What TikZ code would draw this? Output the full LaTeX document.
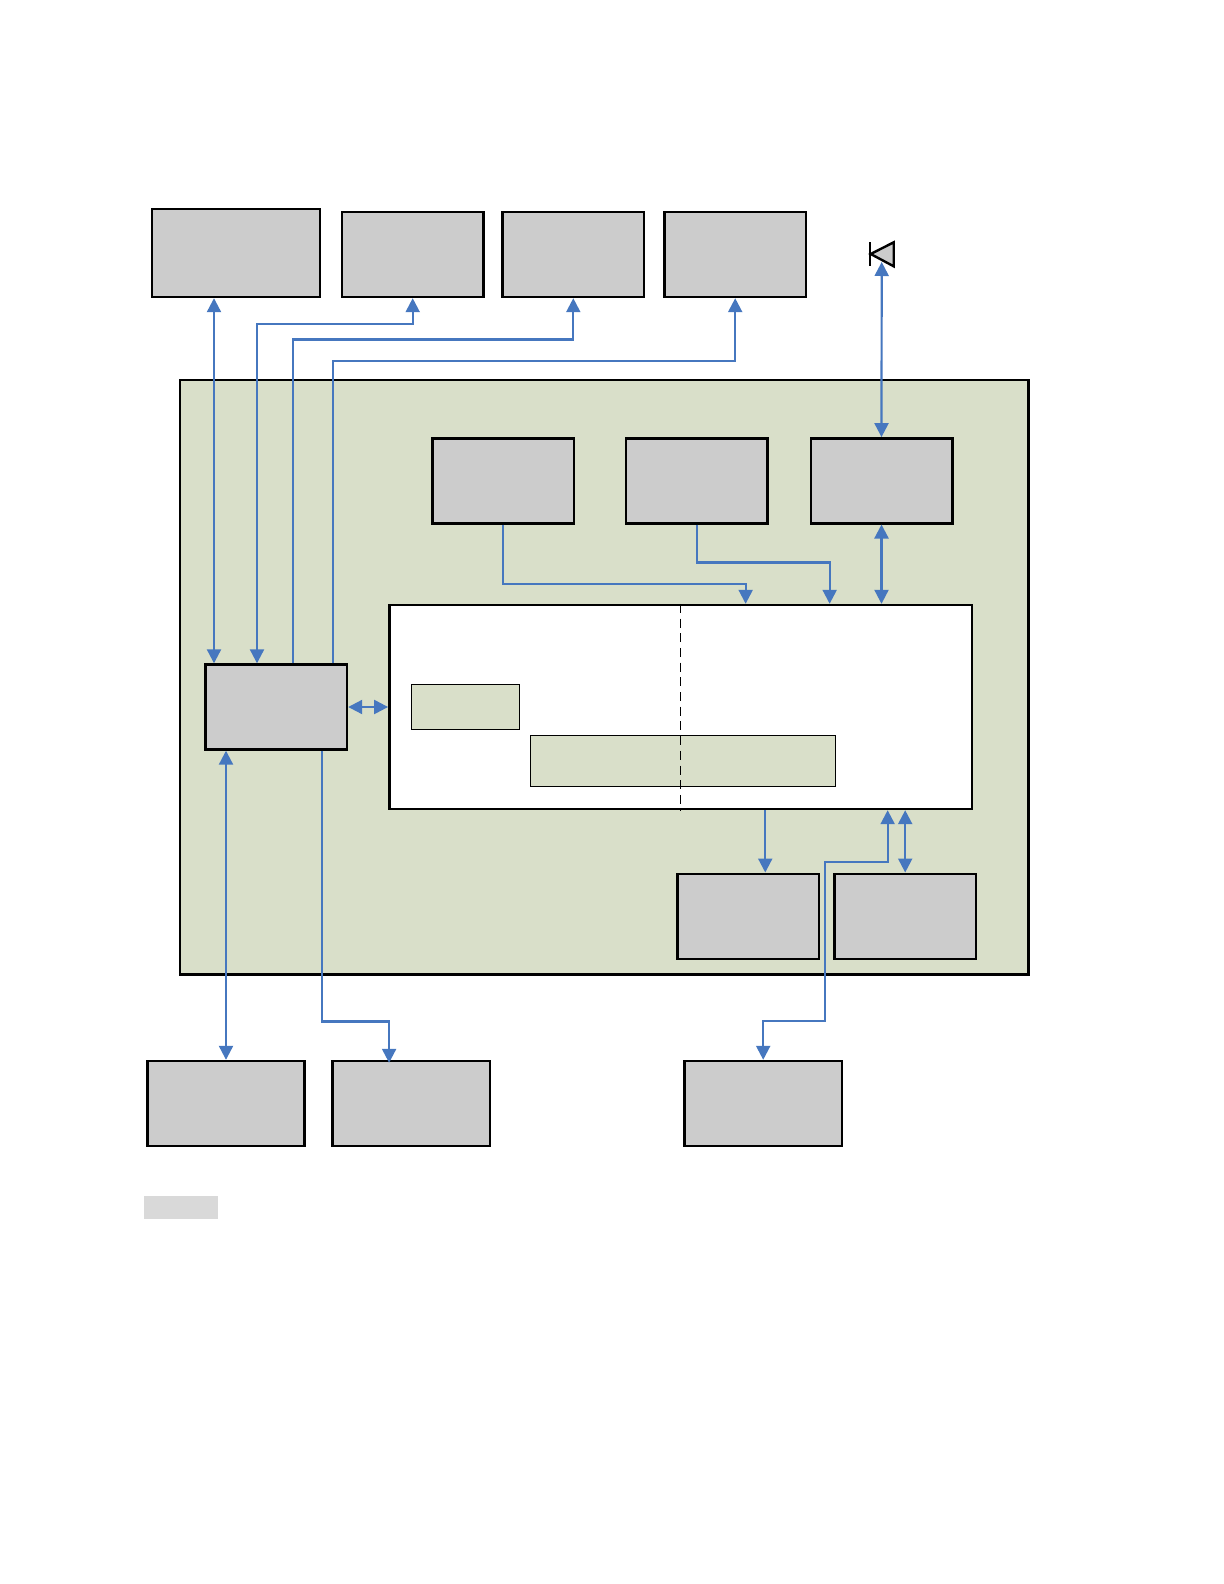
\documentclass[tikz,border=0pt]{standalone}
\usepackage{xcolor}
\usetikzlibrary{positioning,arrows.meta}
\definecolor{ChipGreen}{HTML}{D9DFC9}
\definecolor{BoxGray}{HTML}{CCCCCC}
\definecolor{LinkBlue}{HTML}{4677BF}
\tikzset{
  box/.style={draw,line width=1.2pt,fill=BoxGray,inner sep=0pt,minimum width=70.8pt,minimum height=42.5pt},
  widebox/.style={box,minimum width=78.7pt},
  chipbox/.style={draw,line width=1.2pt,fill=ChipGreen,inner sep=0pt},
  soft/.style={draw,line width=0.6pt,fill=ChipGreen,inner sep=0pt},
  arr/.style={-{Triangle[length=7pt,width=7pt]},LinkBlue,line width=1.1pt},
  darr/.style={{Triangle[length=7pt,width=7pt]}-{Triangle[length=7pt,width=7pt]},LinkBlue,line width=1.1pt}
}
\begin{document}
\begin{tikzpicture}[x=0.5pt,y=-0.5pt]
\useasboundingbox (0,0) rectangle (1224,1584);
\node[chipbox, minimum width=424.1pt, minimum height=297.15pt] (chip) at (604.2,677.15) {};
\node[draw, line width=1.2pt, fill=white, inner sep=0pt, minimum width=291.35pt, minimum height=102pt] (core) at (680.65,707) {};
\node[soft, minimum width=54pt, minimum height=22.85pt, right=11.3pt of core.west] (small) {};
\node[soft, minimum width=152.4pt, minimum height=25.7pt, above right=11.4pt and 70.9pt of core.south west] (wide) {};
\node[box, above left=39.65pt and 9.85pt of core.north east] (mthree) {};
\node[box, left=20.45pt of mthree] (mtwo) {};
\node[box, left=24.7pt of mtwo] (mone) {};
\node[box, left=19.95pt of core] (ctrl) {};
\node[box, below left=31.15pt and -2pt of core.south east] (btwo) {};
\node[box, left=6.55pt of btwo] (bone) {};
\node[box, minimum width=84pt, minimum height=44pt] (topa) at (236,253) {};
\node[box, right=9.75pt of topa.south east, anchor=south west] (topb) {};
\node[box, right=8.3pt of topb] (topc) {};
\node[box, right=8.95pt of topc] (topd) {};
\node[widebox, minimum width=78.4pt] (lowa) at (226,1103.5) {};
\node[widebox, right=12.8pt of lowa] (lowb) {};
\node[widebox, right=96.15pt of lowb] (lowc) {};
\node[fill=black!15, inner sep=0pt, outer sep=0pt, minimum width=37pt, minimum height=11.35pt] (swatch) at (181,1207.35) {};
\draw[line width=1.2pt, fill=BoxGray] (893.7,242.3) -- (870.7,254) -- (893.7,266.3) -- cycle;
\draw[line width=1.2pt] (870,242.3) -- (870,266.3);
\coordinate (diode) at (881.7,262);
\coordinate (jog) at (824.7,862.3);
\coordinate (jogb) at (824.7,1021.3);
\draw[dash pattern=on 4.5pt off 2.85pt, line width=0.5pt] (core.north) -- (core.south);
\draw[darr] (topa.south -| 214,0) -- (ctrl.north -| 214,0);
\draw[darr] (topb.south) -- ([yshift=-12.85pt]topb.south) -| ([xshift=-9.6pt]ctrl.north);
\draw[arr] ([xshift=8.4pt]ctrl.north) |- ([yshift=-20.65pt]topc.south) -- (topc.south);
\draw[arr] ([xshift=28.3pt]ctrl.north) |- ([yshift=-31.35pt]topd.south) -- (topd.south);
\draw[darr] (diode) -- (mthree.north);
\draw[arr] (mone.south) |- ([xshift=32.5pt,yshift=10pt]core.north) -- ([xshift=32.5pt]core.north);
\draw[arr] (mtwo.south) |- ([xshift=74.5pt,yshift=20.65pt]core.north) -- ([xshift=74.5pt]core.north);
\draw[darr] (mthree.south) -- (mthree.south |- core.north);
\draw[darr] (ctrl.east) -- (ctrl.east -| core.west);
\draw[darr] (lowa.north) -- (lowa.north |- ctrl.south);
\draw[arr] ([xshift=22.9pt]ctrl.south) |- ([xshift=-11pt,yshift=19.15pt]lowb.north) -- ([xshift=-11pt,yshift=-1.5pt]lowb.north);
\draw[arr] ([xshift=42.3pt]core.south) -- ([xshift=42.3pt]core.south |- bone.north);
\draw[darr] (btwo.north) -- (btwo.north |- core.south);
\draw[darr] ([xshift=103.5pt]core.south) |- (jog) -- (jogb) -| (lowc.north);
\end{tikzpicture}
\end{document}
